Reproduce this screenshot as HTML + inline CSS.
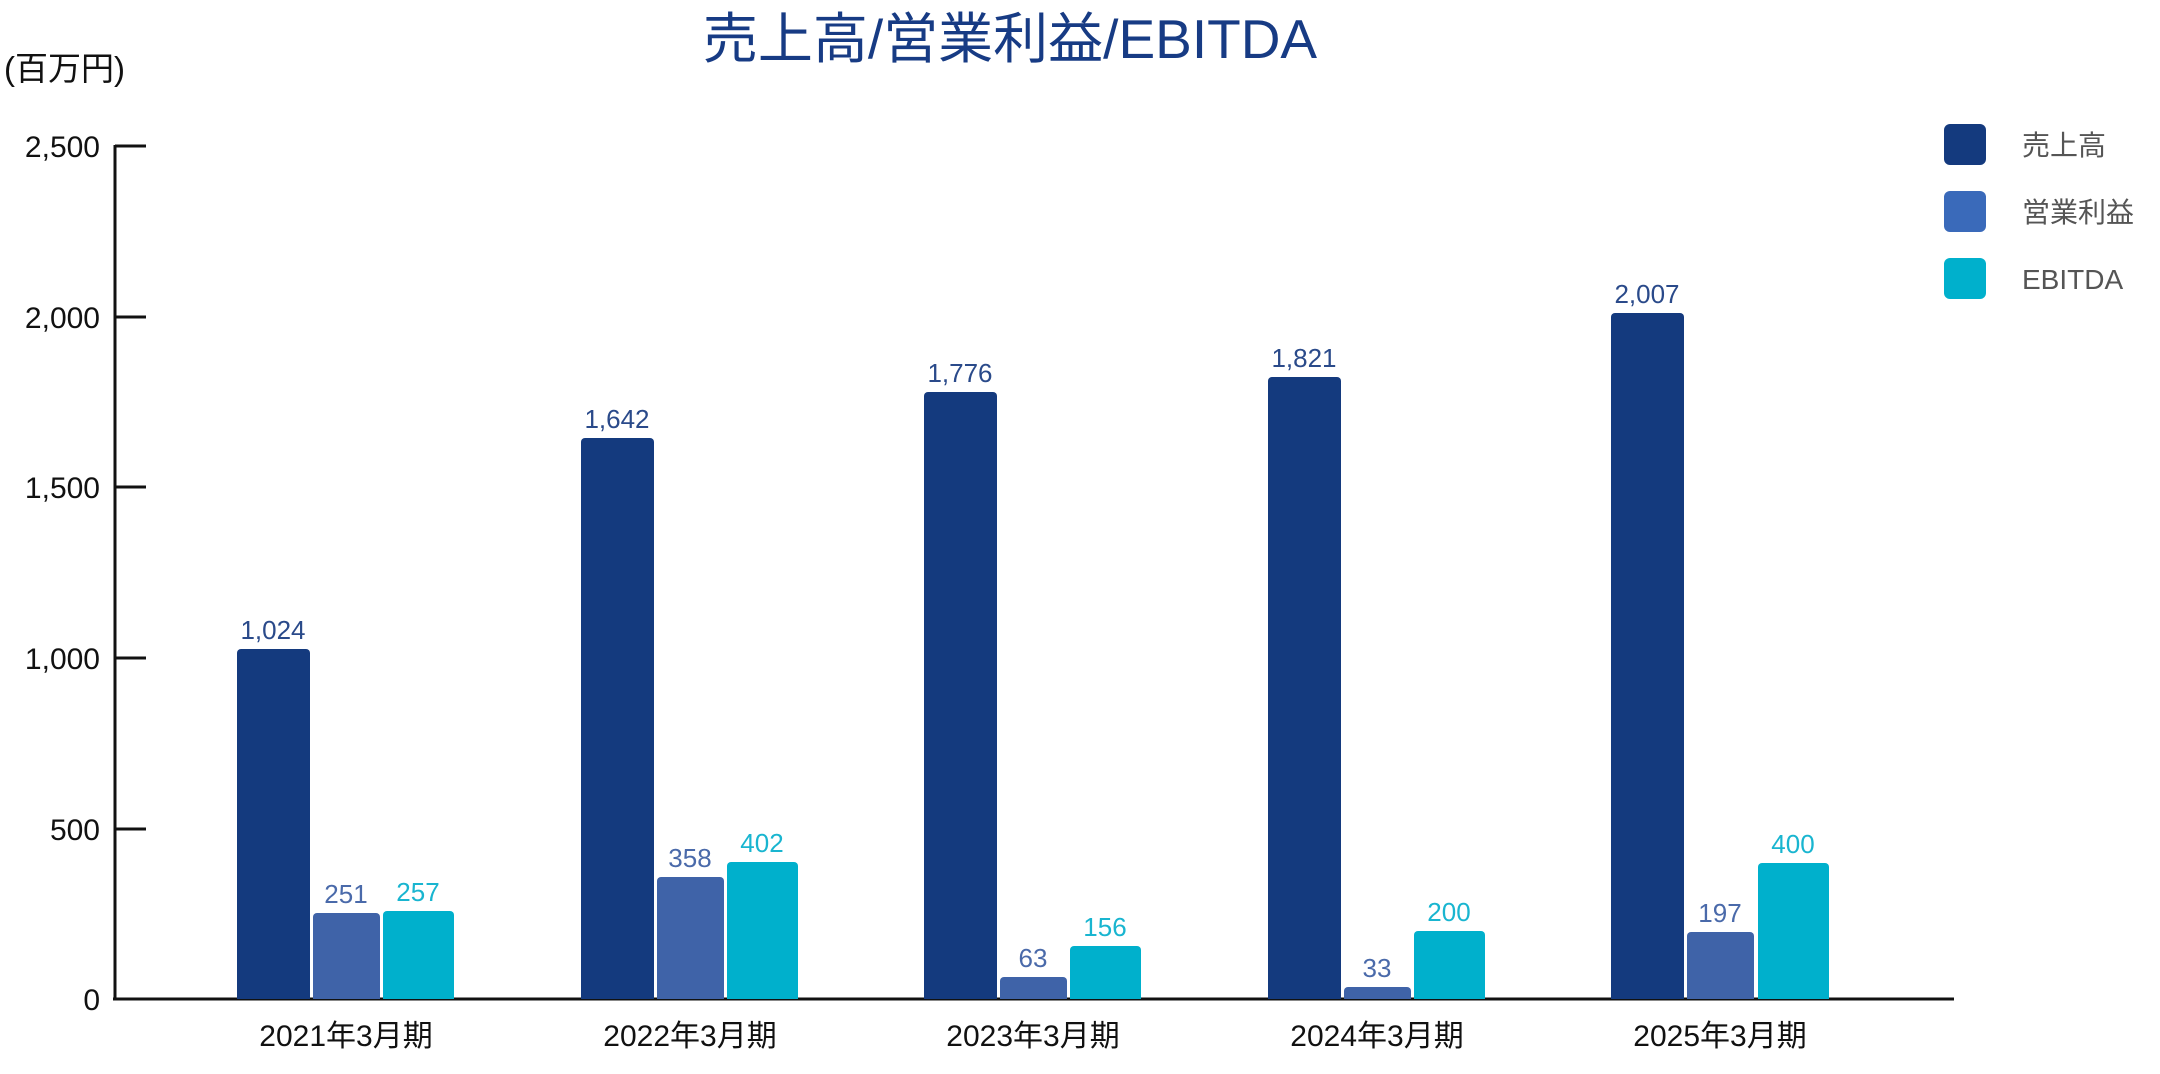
<!DOCTYPE html>
<html><head><meta charset="utf-8"><style>
html,body{margin:0;padding:0;background:#fff;}
svg{display:block;}
text{font-family:"Liberation Sans","Noto Sans CJK JP",sans-serif;}
</style></head><body>
<svg width="2160" height="1074" viewBox="0 0 2160 1074" xmlns="http://www.w3.org/2000/svg">
<text x="1010" y="58" font-size="55" fill="#173b84" text-anchor="middle" font-family="'Noto Sans CJK JP',sans-serif">売上高/営業利益/EBITDA</text>
<text x="4" y="80" font-size="33" fill="#111">(百万円)</text>
<g stroke="#111" stroke-width="3" fill="none">
<line x1="115" y1="145" x2="115" y2="1000"/>
<line x1="113" y1="999" x2="1954" y2="999"/>
<line x1="115" y1="146" x2="146" y2="146"/>
<line x1="115" y1="317" x2="146" y2="317"/>
<line x1="115" y1="487" x2="146" y2="487"/>
<line x1="115" y1="658" x2="146" y2="658"/>
<line x1="115" y1="829" x2="146" y2="829"/>
</g>
<g font-size="30" fill="#111" text-anchor="end">
<text x="100" y="157">2,500</text>
<text x="100" y="328">2,000</text>
<text x="100" y="498">1,500</text>
<text x="100" y="669">1,000</text>
<text x="100" y="840">500</text>
<text x="100" y="1010">0</text>
</g>
<g font-size="26" text-anchor="middle">
<path d="M237,999V653a4,4 0 0 1 4,-4h65a4,4 0 0 1 4,4V999Z" fill="#143a7e"/>
<path d="M313,999V917a4,4 0 0 1 4,-4h59a4,4 0 0 1 4,4V999Z" fill="#3f63a8"/>
<path d="M383,999V915a4,4 0 0 1 4,-4h63a4,4 0 0 1 4,4V999Z" fill="#00b0cc"/>
<text x="273" y="639" fill="#2a4a8a">1,024</text>
<text x="346" y="903" fill="#4a6aaa">251</text>
<text x="418" y="901" fill="#19b5d0">257</text>
<path d="M581,999V442a4,4 0 0 1 4,-4h65a4,4 0 0 1 4,4V999Z" fill="#143a7e"/>
<path d="M657,999V881a4,4 0 0 1 4,-4h59a4,4 0 0 1 4,4V999Z" fill="#3f63a8"/>
<path d="M727,999V866a4,4 0 0 1 4,-4h63a4,4 0 0 1 4,4V999Z" fill="#00b0cc"/>
<text x="617" y="428" fill="#2a4a8a">1,642</text>
<text x="690" y="867" fill="#4a6aaa">358</text>
<text x="762" y="852" fill="#19b5d0">402</text>
<path d="M924,999V396a4,4 0 0 1 4,-4h65a4,4 0 0 1 4,4V999Z" fill="#143a7e"/>
<path d="M1000,999V981a4,4 0 0 1 4,-4h59a4,4 0 0 1 4,4V999Z" fill="#3f63a8"/>
<path d="M1070,999V950a4,4 0 0 1 4,-4h63a4,4 0 0 1 4,4V999Z" fill="#00b0cc"/>
<text x="960" y="382" fill="#2a4a8a">1,776</text>
<text x="1033" y="967" fill="#4a6aaa">63</text>
<text x="1105" y="936" fill="#19b5d0">156</text>
<path d="M1268,999V381a4,4 0 0 1 4,-4h65a4,4 0 0 1 4,4V999Z" fill="#143a7e"/>
<path d="M1344,999V991a4,4 0 0 1 4,-4h59a4,4 0 0 1 4,4V999Z" fill="#3f63a8"/>
<path d="M1414,999V935a4,4 0 0 1 4,-4h63a4,4 0 0 1 4,4V999Z" fill="#00b0cc"/>
<text x="1304" y="367" fill="#2a4a8a">1,821</text>
<text x="1377" y="977" fill="#4a6aaa">33</text>
<text x="1449" y="921" fill="#19b5d0">200</text>
<path d="M1611,999V317a4,4 0 0 1 4,-4h65a4,4 0 0 1 4,4V999Z" fill="#143a7e"/>
<path d="M1687,999V936a4,4 0 0 1 4,-4h59a4,4 0 0 1 4,4V999Z" fill="#3f63a8"/>
<path d="M1758,999V867a4,4 0 0 1 4,-4h63a4,4 0 0 1 4,4V999Z" fill="#00b0cc"/>
<text x="1647" y="303" fill="#2a4a8a">2,007</text>
<text x="1720" y="922" fill="#4a6aaa">197</text>
<text x="1793" y="853" fill="#19b5d0">400</text>
</g>
<g font-size="30" fill="#111" text-anchor="middle">
<text x="346" y="1046">2021年3月期</text>
<text x="690" y="1046">2022年3月期</text>
<text x="1033" y="1046">2023年3月期</text>
<text x="1377" y="1046">2024年3月期</text>
<text x="1720" y="1046">2025年3月期</text>
</g>
<rect x="1944" y="124" width="42" height="41" rx="6" fill="#143a7e"/>
<rect x="1944" y="191" width="42" height="41" rx="6" fill="#3a6aba"/>
<rect x="1944" y="258" width="42" height="41" rx="6" fill="#00b0cc"/>
<g font-size="28" fill="#555" font-family="'Noto Sans CJK JP',sans-serif">
<text x="2022" y="155">売上高</text>
<text x="2022" y="222">営業利益</text>
<text x="2022" y="289">EBITDA</text>
</g>
</svg>
</body></html>
